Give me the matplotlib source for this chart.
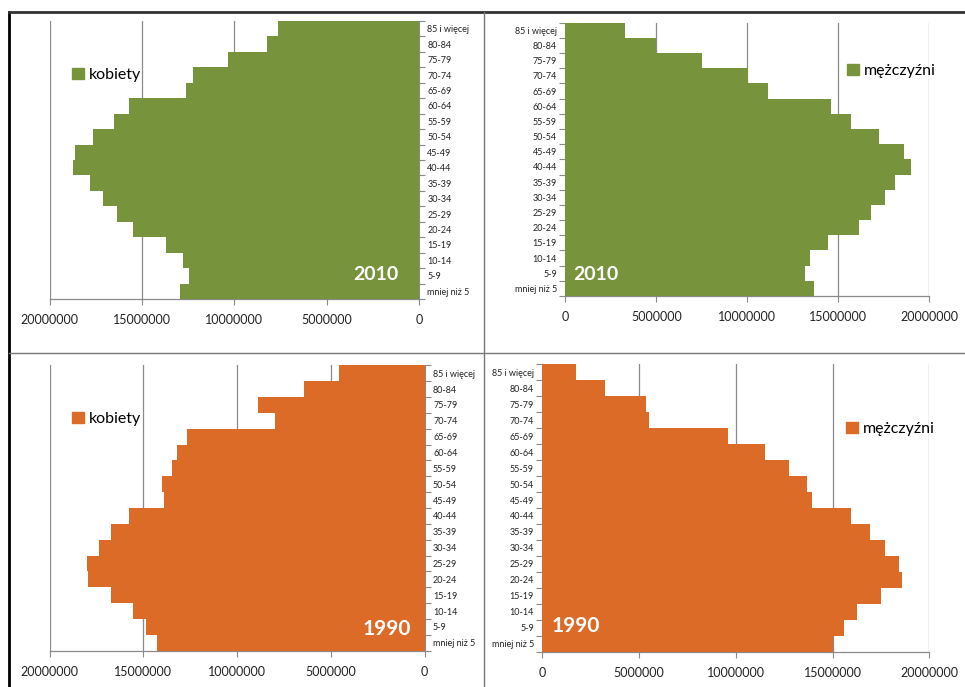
import matplotlib
matplotlib.use("Agg")
import matplotlib.pyplot as plt
from matplotlib.patches import Patch
from matplotlib.lines import Line2D
import numpy as np

plt.rcParams['font.family'] = ['Lato', 'DejaVu Sans']

age_groups = ["mniej niż 5", "5-9", "10-14", "15-19", "20-24", "25-29", "30-34",
              "35-39", "40-44", "45-49", "50-54", "55-59", "60-64", "65-69",
              "70-74", "75-79", "80-84", "85 i więcej"]

# values listed from youngest (bottom) to oldest (top)
women_2010 = [12960000, 12480000, 12770000, 13700000, 15490000, 16360000, 17100000,
              17820000, 18760000, 18630000, 17680000, 16500000, 15690000, 12600000,
              12220000, 10350000, 8250000, 7620000]
men_2010 = [13640000, 13150000, 13440000, 14450000, 16120000, 16790000, 17560000,
            18110000, 18990000, 18610000, 17250000, 15710000, 14580000, 11140000,
            10020000, 7530000, 5000000, 3280000]
women_1990 = [14290000, 14860000, 15560000, 16730000, 17960000, 17990000, 17370000,
              16730000, 15750000, 13920000, 13990000, 13480000, 13230000, 12690000,
              7960000, 8870000, 6440000, 4590000]
men_1990 = [15000000, 15570000, 16280000, 17520000, 18590000, 18450000, 17710000,
            16920000, 15930000, 13920000, 13680000, 12730000, 11510000, 9610000,
            5500000, 5340000, 3240000, 1760000]

x_ticks = [0, 5000000, 10000000, 15000000, 20000000]

GREEN = "#77933C"
ORANGE = "#DB6B27"
GRID = "#8a8a8a"

W, H = 965, 687
fig = plt.figure(figsize=(W / 100, H / 100), dpi=100)


def px_axes(left, top, right, bottom):
    return fig.add_axes([left / W, 1 - bottom / H, (right - left) / W, (bottom - top) / H])


def pyramid(ax, values, color, left_side):
    y = np.arange(len(age_groups))
    ax.barh(y, values, height=1.0, color=color, zorder=3)
    ax.set_ylim(-0.5, len(age_groups) - 0.5)
    if left_side:
        ax.set_xlim(20000000, 0)
        ax.yaxis.tick_right()
    else:
        ax.set_xlim(0, 20000000)
    ax.set_xticks(x_ticks)
    ax.set_xticklabels([str(v) for v in x_ticks], fontsize=9, color="#222222")
    ax.set_yticks(y)
    ax.set_yticklabels(age_groups, fontsize=6.5, color="#222222")
    ax.set_yticks(np.arange(-0.5, len(age_groups)), minor=True)
    ax.tick_params(axis="y", which="major", length=0, pad=6)
    ax.tick_params(axis="y", which="minor", length=4, color=GRID, width=0.8)
    ax.tick_params(axis="x", length=4, color=GRID, width=0.8, pad=7)
    ax.grid(axis="x", color=GRID, lw=0.9, zorder=0)
    for s in ["top", "left", "right"]:
        ax.spines[s].set_visible(False)
    ax.spines["bottom"].set_color(GRID)
    side = "right" if left_side else "left"
    ax.spines[side].set_visible(True)
    ax.spines[side].set_color(GRID)
    ax.spines[side].set_linewidth(0.8)
    ax.spines["bottom"].set_linewidth(0.9)


def legend_at(ax, label, color, x, y):
    ax.legend(handles=[Patch(color=color, label=label)], loc="center left",
              bbox_to_anchor=(x / W, 1 - y / H), bbox_transform=fig.transFigure,
              frameon=False, fontsize=11.5, handlelength=0.75, handleheight=0.75,
              handletextpad=0.3, borderpad=0, borderaxespad=0)


ax1 = px_axes(49.7, 21, 419, 299)
pyramid(ax1, women_2010, GREEN, True)
legend_at(ax1, "kobiety", GREEN, 72, 75)
fig.text(399 / W, 1 - 274 / H, "2010", color="white", fontsize=14, fontweight="bold",
         ha="right", va="center")

ax2 = px_axes(565.3, 22.7, 929.3, 296)
pyramid(ax2, men_2010, GREEN, False)
legend_at(ax2, "mężczyźni", GREEN, 846.7, 71)
fig.text(573 / W, 1 - 275 / H, "2010", color="white", fontsize=14, fontweight="bold",
         ha="left", va="center")

ax3 = px_axes(49.7, 365.3, 424.7, 650.7)
pyramid(ax3, women_1990, ORANGE, True)
legend_at(ax3, "kobiety", ORANGE, 72, 419)
fig.text(411 / W, 1 - 629 / H, "1990", color="white", fontsize=15, fontweight="bold",
         ha="right", va="center")

ax4 = px_axes(542.3, 364.3, 929.3, 651.7)
pyramid(ax4, men_1990, ORANGE, False)
legend_at(ax4, "mężczyźni", ORANGE, 845.7, 429)
fig.text(552 / W, 1 - 626 / H, "1990", color="white", fontsize=15, fontweight="bold",
         ha="left", va="center")

# table frame around the four charts
fig.add_artist(Line2D([9 / W, 9 / W], [0, 1 - 12 / H], color="black", lw=2))
fig.add_artist(Line2D([9 / W, 1], [1 - 12 / H, 1 - 12 / H], color="#333333", lw=2))
fig.add_artist(Line2D([484 / W, 484 / W], [0, 1 - 12 / H], color="#777777", lw=1))
fig.add_artist(Line2D([9 / W, 1], [1 - 353 / H, 1 - 353 / H], color="#777777", lw=1))

fig.savefig("out.png", dpi=100)
